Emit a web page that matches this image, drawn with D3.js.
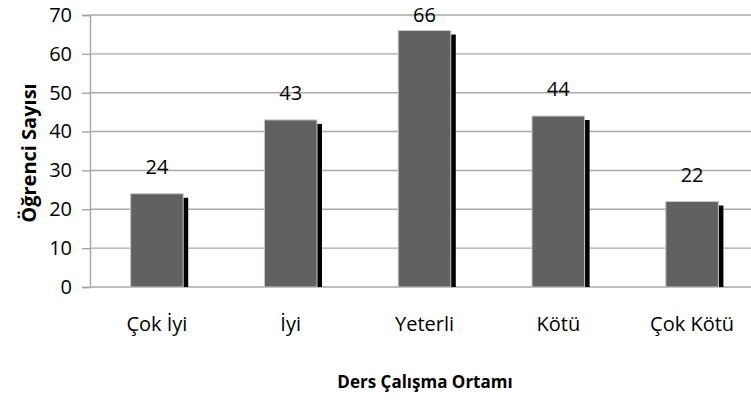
<!DOCTYPE html>
<html lang="tr">
<head>
  <meta charset="UTF-8">
  <style>
    html, body { margin: 0; padding: 0; background: #fff; }
    svg text { font-family: "Open Sans", sans-serif; fill: #000; }
    .axis path, .axis line { stroke: #a6a6a6; }
  </style>
  <script src="https://d3js.org/d3.v7.min.js"></script>
</head>
<body>
  <svg id="chart" width="751" height="403"></svg>

  <script>
    // data
    const categories = ["Çok İyi", "İyi", "Yeterli", "Kötü", "Çok Kötü"];
    const counts = [24, 43, 66, 44, 22];
    const yTicks = [0, 10, 20, 30, 40, 50, 60, 70];

    const svg = d3.select("#chart");

    // plot box
    const plotLeft = 90, plotRight = 759, plotTop = 15, plotBottom = 287;

    const x = d3.scaleBand()
      .domain(categories)
      .range([plotLeft, plotRight])
      .paddingInner(0.607)
      .paddingOuter(0.3035);

    const y = d3.scaleLinear().domain([0, 70]).range([plotBottom, plotTop]);

    // horizontal gridlines
    svg.append("g")
      .selectAll("line")
      .data(yTicks)
      .enter()
      .append("line")
      .attr("x1", plotLeft)
      .attr("x2", 751)
      .attr("y1", d => y(d))
      .attr("y2", d => y(d))
      .attr("stroke", "#a9a9a9")
      .attr("stroke-width", 1.4);

    // y axis
    const yAxis = d3.axisLeft(y).tickValues(yTicks).tickSize(8).tickPadding(10);
    const gy = svg.append("g")
      .attr("class", "axis")
      .attr("transform", `translate(${plotLeft}, 0)`)
      .call(yAxis);
    gy.select(".domain").attr("stroke-width", 1.4);
    gy.selectAll(".tick line").attr("stroke-width", 1.4);
    gy.selectAll("text").style("font-size", "20px").attr("fill", "#000");

    const rows = categories.map((c, i) => ({ cat: c, val: counts[i] }));

    // shadows behind bars
    svg.append("g")
      .selectAll("rect")
      .data(rows)
      .enter()
      .append("rect")
      .attr("x", d => x(d.cat) + 5)
      .attr("y", d => y(d.val) + 4)
      .attr("width", x.bandwidth())
      .attr("height", d => y(0) - y(d.val) - 4)
      .attr("fill", "#000");

    // bars
    svg.append("g")
      .selectAll("rect")
      .data(rows)
      .enter()
      .append("rect")
      .attr("x", d => x(d.cat))
      .attr("y", d => y(d.val))
      .attr("width", x.bandwidth())
      .attr("height", d => y(0) - y(d.val))
      .attr("fill", "#616161")
      .attr("stroke", "#c8c8c8")
      .attr("stroke-width", 1);

    // value labels (the tallest one is pushed down to stay inside)
    svg.append("g")
      .selectAll("text")
      .data(rows)
      .enter()
      .append("text")
      .attr("x", d => x(d.cat) + x.bandwidth() / 2)
      .attr("y", d => Math.max(y(d.val) - 20, 22))
      .attr("text-anchor", "middle")
      .style("font-size", "20px")
      .text(d => d.val);

    // category labels
    const xAxis = d3.axisBottom(x).tickSize(0).tickPadding(0);
    const gx = svg.append("g")
      .attr("class", "axis")
      .attr("transform", `translate(0, ${plotBottom})`)
      .call(xAxis);
    gx.select(".domain").remove();
    gx.selectAll("text")
      .attr("dy", null)
      .attr("y", 44)
      .style("font-size", "20px")
      .attr("fill", "#000");

    // axis titles
    svg.append("text")
      .attr("x", 425)
      .attr("y", 388)
      .attr("text-anchor", "middle")
      .style("font-size", "17px")
      .style("font-weight", "bold")
      .text("Ders Çalışma Ortamı");

    svg.append("text")
      .attr("transform", "translate(36, 153) rotate(-90)")
      .attr("text-anchor", "middle")
      .style("font-size", "20px")
      .style("font-weight", "bold")
      .text("Öğrenci Sayısı");
  </script>
</body>
</html>
